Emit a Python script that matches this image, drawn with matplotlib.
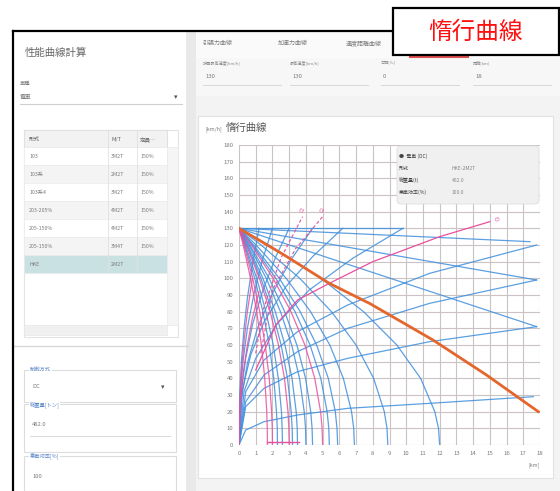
import matplotlib
matplotlib.use('Agg')
import matplotlib.pyplot as plt
from matplotlib.patches import Rectangle, FancyBboxPatch

plt.rcParams['font.family'] = ['Noto Sans CJK JP', 'DejaVu Sans']

#--- chart data ---#
x_ticks = list(range(0, 19))
y_ticks = list(range(0, 190, 10))

# braking curves: x at each speed of brake_speed
brake_speed = [130, 120, 100, 80, 60, 40, 20, 10, 0]
brake_blue = [
    [0, 0.34, 0.94, 1.43, 1.81, 2.08, 2.24, 2.29, 2.3],
    [0, 0.38, 1.06, 1.61, 2.05, 2.35, 2.54, 2.58, 2.6],
    [0, 0.47, 1.31, 1.99, 2.52, 2.90, 3.12, 3.18, 3.2],
    [0, 0.52, 1.43, 2.17, 2.75, 3.17, 3.42, 3.48, 3.5],
    [0, 0.59, 1.63, 2.48, 3.15, 3.62, 3.90, 3.98, 4.0],
    [0, 0.65, 1.80, 2.73, 3.46, 3.98, 4.29, 4.37, 4.4],
    [0, 0.80, 2.20, 3.35, 4.25, 4.89, 5.27, 5.37, 5.4],
    [0, 0.87, 2.41, 3.66, 4.64, 5.34, 5.76, 5.86, 5.9],
    [0, 1.02, 2.82, 4.28, 5.43, 6.24, 6.73, 6.86, 6.9],
    [0, 1.32, 3.63, 5.53, 7.00, 8.05, 8.69, 8.85, 8.9],
    [0, 1.78, 4.90, 7.45, 9.44, 10.86, 11.71, 11.93, 12.0],
]
brake_pink = [
    [0, 0.25, 0.69, 1.06, 1.34, 1.54, 1.66, 1.69, 1.7],
    [0, 0.30, 0.82, 1.24, 1.57, 1.81, 1.95, 1.99, 2.0],
    [0, 0.44, 1.22, 1.86, 2.36, 2.72, 2.93, 2.98, 3.0],
    [0, 0.74, 2.04, 3.11, 3.94, 4.53, 4.88, 4.97, 5.0],
]
# acceleration curves from the origin
rise_blue = [
    ([0, 0.05, 0.15, 0.3, 0.5, 0.8, 1.2], [0, 31, 51, 70, 88, 108, 130]),
    ([0, 0.08, 0.25, 0.5, 0.9, 1.4, 2.0], [0, 31, 51, 70, 91, 111, 130]),
    ([0, 0.12, 0.4, 0.8, 1.4, 2.2, 3.0], [0, 31, 52, 72, 92, 113, 130]),
    ([0, 0.15, 0.5, 1.1, 2.0, 3.1, 4.4], [0, 28, 49, 70, 91, 111, 130]),
    ([0, 0.2, 0.7, 1.5, 2.8, 4.4, 6.2], [0, 33, 54, 74, 95, 113, 130]),
    ([0, 0.3, 1.0, 2.3, 4.2, 6.8, 9.8], [0, 32, 52, 73, 93, 112, 130]),
    ([0, 0.4, 1.5, 3.5, 6.5, 11.4, 17.8], [0, 32, 51, 68, 84, 103, 120]),
    ([0, 0.4, 1.5, 3.5, 6.5, 11.4, 17.8], [0, 26, 42, 56, 70, 85, 99]),
    ([0, 0.4, 1.5, 3.5, 6.5, 11.4, 17.8], [0, 23, 34, 44, 52, 62, 71]),
    ([0, 0.4, 1.5, 3.5, 6.5, 11.4, 17.6], [0, 9, 14, 18, 22, 25, 29]),
]
rise_pink = [
    ([0, 0.05, 0.15, 0.3, 0.5, 0.8], [0, 25, 45, 62, 80, 100]),
    ([0, 0.08, 0.25, 0.5, 0.8, 1.2], [0, 24, 43, 60, 76, 92]),
]
# coasting lines from top speed
coast_end_x = [9.8, 17.4, 17.8, 17.8]
coast_end_y = [130, 122, 99, 71]
# operating line
orange_x = [0, 2.7, 5.4, 7.8, 11.6, 14.8, 17.9]
orange_y = [130, 114, 97, 85, 63, 42, 20]
# pink reference lines
pink_dash = [
    ([1.0, 1.44, 2.5, 3.8], [55, 81, 112, 137]),
    ([1.3, 2.0, 3.4, 5.0], [55, 93, 118, 137]),
]
pink_dash_labels = ["C1", "C2"]
pink_long_x = [1.0, 2.2, 3.5, 5.4, 8.0, 12.0, 15.0]
pink_long_y = [45, 72, 87, 97, 110, 125, 134]
pink_bottom_x = [1.7, 3.6]
pink_bottom_y = [2, 2]

#--- UI texts ---#
tabs = ["引張力曲線", "加速力曲線", "速度距離曲線"]
param_labels = ["計画最高速度[km/h]", "最高速度[km/h]", "勾配[‰]", "距離[km]"]
param_values = ["130", "130", "0", "18"]
tbl_head = ["形式", "M/T", "定員…"]
tbl_c1 = ["103", "103系", "103系4", "203-205%", "205-150%", "205-150%", "HKE"]
tbl_c2 = ["3M2T", "2M2T", "3M2T", "4M2T", "4M2T", "3M4T", "2M2T"]
tbl_c3 = ["150%", "150%", "150%", "150%", "150%", "150%", ""]
info_keys = ["形式", "総重量(t)", "乗車効率(%)"]
info_vals = ["HKE-2M2T", "482.0", "100.0"]

blue = '#3f8fdc'
pink = '#e8509e'
gray_txt = '#7a7a7a'

fig = plt.figure(figsize=(5.6, 4.91), dpi=100)
bg = fig.add_axes([0, 0, 1, 1])
bg.set_xlim(0, 560)
bg.set_ylim(491, 0)
bg.axis('off')

def box(x0, y0, x1, y1, fc, ec='none', lw=0.8, z=1):
    bg.add_patch(Rectangle((x0, y0), x1 - x0, y1 - y0, fc=fc, ec=ec, lw=lw, zorder=z))

def txt(x, y, s, fs=4.5, c=gray_txt, ha='left', z=3, **kw):
    bg.text(x, y, s, fontsize=fs, color=c, ha=ha, va='center', zorder=z, **kw)

#--- panels ---#
box(13, 31, 560, 491, '#f3f3f3')
box(13, 31, 186, 491, 'white')
box(186, 31, 196, 491, '#e9e9e9')
box(196, 31, 560, 58, '#fafafa')
box(196, 58, 560, 96, '#f7f7f7')
box(198, 116, 553, 478, 'white', ec='#e2e2e2')

#--- left panel ---#
txt(25, 53, "性能曲線計算", fs=7.5, c='#666666')
txt(20, 83, "車種", fs=3.8)
txt(20, 97, "電車", fs=4.2)
txt(176, 97, "▾", fs=5, c='#555555', ha='center')
bg.plot([20, 182], [104, 104], color='#cfcfcf', lw=0.8, zorder=2)

box(24, 130, 178, 337, 'white', ec='#e4e4e4')
box(24, 130, 167, 147, '#f2f2f2', ec='#e0e0e0')
row_h = 18
for i in range(len(tbl_c1)):
    y0 = 147 + i * row_h
    fc = '#c9e1e2' if i == len(tbl_c1) - 1 else ('#f4f4f4' if i % 2 else 'white')
    box(24, y0, 167, y0 + row_h, fc, ec='#ececec', lw=0.5)
    txt(29, y0 + row_h / 2, tbl_c1[i], fs=3.8)
    txt(111, y0 + row_h / 2, tbl_c2[i], fs=3.8)
    txt(140, y0 + row_h / 2, tbl_c3[i], fs=3.8)
for xs, h in zip([29, 111, 140], tbl_head):
    txt(xs, 139, h, fs=4.0, c='#666666')
bg.plot([108, 108], [130, 273], color='#e0e0e0', lw=0.6, zorder=2)
bg.plot([137, 137], [130, 273], color='#e0e0e0', lw=0.6, zorder=2)
box(167, 147, 178, 325, '#f5f5f5', ec='#e8e8e8', lw=0.5)
box(24, 325, 167, 335, '#f0f0f0', ec='#e6e6e6', lw=0.5)
bg.plot([13, 188], [346, 346], color='#d8d8d8', lw=1.0, zorder=2)

box(24, 370, 176, 402, 'white', ec='#dcdcdc')
box(24, 404, 176, 452, 'white', ec='#dcdcdc')
box(24, 456, 176, 491, 'white', ec='#dcdcdc')
txt(30, 369, "制御方式", fs=3.8, c='#5b86c9', bbox=dict(fc='white', ec='none', pad=0.5))
txt(32, 387, "DC", fs=4.2)
txt(163, 387, "▾", fs=5, c='#555555', ha='center')
txt(30, 405, "総重量[トン]", fs=3.8, c='#5b86c9', bbox=dict(fc='white', ec='none', pad=0.5))
txt(32, 424, "482.0", fs=4.2)
bg.plot([30, 170], [436, 436], color='#d5d5d5', lw=0.6, zorder=2)
txt(30, 457, "乗車効率[%]", fs=3.8, c='#5b86c9', bbox=dict(fc='white', ec='none', pad=0.5))
txt(32, 477, "100", fs=4.2)

#--- right panel header ---#
for xs, t in zip([203, 278, 346], tabs):
    txt(xs, 43, t, fs=4.3)
bg.plot([410, 468], [57, 57], color='#e05050', lw=1.5, zorder=2)
for i in range(len(param_labels)):
    x0 = [203, 290, 381, 473][i]
    txt(x0, 63, param_labels[i], fs=3.0, c='#8a8a8a')
    txt(x0 + 2, 76, param_values[i], fs=4.3)
    bg.plot([x0, x0 + 78], [85, 85], color='#d2d2d2', lw=0.6, zorder=2)

txt(205, 129, "[km/h]", fs=3.8)
txt(226, 128, "惰行曲線", fs=7.5, c='#555555')
txt(534, 465, "[km]", fs=3.8, ha='center')

#--- frame and callout ---#
bg.plot([13, 393], [31, 31], color='black', lw=1.6, zorder=6)
bg.plot([13, 13], [31, 491], color='black', lw=1.6, zorder=6)
box(393, 8, 559, 55, 'white', ec='black', lw=1.6, z=7)
bg.text(476, 32, "惰行曲線", fontsize=17, color='#ff1010', ha='center', va='center', zorder=8)

#--- chart ---#
ax = fig.add_axes([239 / 560, (491 - 445) / 491, 301 / 560, 300 / 491], zorder=2)
ax.set_xlim(0, 18)
ax.set_ylim(0, 180)
ax.set_xticks(x_ticks)
ax.set_yticks(y_ticks)
ax.grid(True, color='#cbc3c3', lw=0.8)
ax.set_axisbelow(True)
for s in ax.spines.values():
    s.set_visible(False)
ax.tick_params(length=0, labelsize=4.3, labelcolor=gray_txt, pad=4)

for xs in brake_blue:
    ax.plot(xs, brake_speed, color=blue, lw=0.9, alpha=0.85)
for xs, ys in rise_blue:
    ax.plot(xs, ys, color=blue, lw=0.9, alpha=0.85)
for ex, ey in zip(coast_end_x, coast_end_y):
    ax.plot([0, ex], [130, ey], color=blue, lw=0.9, alpha=0.85)
for xs in brake_pink:
    ax.plot(xs, brake_speed, color=pink, lw=0.9, alpha=0.85)
for xs, ys in rise_pink:
    ax.plot(xs, ys, color=pink, lw=0.9, alpha=0.85)
for (xs, ys), lab in zip(pink_dash, pink_dash_labels):
    ax.plot(xs, ys, color=pink, lw=0.8, ls=(0, (3, 2)))
    ax.text(xs[-1], ys[-1] + 2, lab, fontsize=3.5, color=pink, rotation=60, ha='center', va='bottom')
ax.plot(pink_long_x, pink_long_y, color=pink, lw=0.9)
ax.text(pink_long_x[-1] + 0.3, pink_long_y[-1] + 1, "C3", fontsize=3.5, color=pink, rotation=20, va='center')
ax.plot(pink_bottom_x, pink_bottom_y, color=pink, lw=1.0)
ax.plot(orange_x, orange_y, color='#e4662c', lw=2.0, zorder=5)

#--- info card ---#
bg2 = fig.add_axes([0, 0, 1, 1], zorder=3)
bg2.set_xlim(0, 560)
bg2.set_ylim(491, 0)
bg2.axis('off')
bg2.add_patch(FancyBboxPatch((397, 146), 142, 58, boxstyle='round,pad=0,rounding_size=4',
                             fc='#f0f0f0', ec='#dedede', lw=0.6))
bg2.text(399, 156, "●  電車 (DC)", fontsize=3.6, color='#444444', va='center')
for i in range(len(info_keys)):
    bg2.text(399, 168 + 12 * i, info_keys[i], fontsize=3.6, color='#444444', va='center')
    bg2.text(452, 168 + 12 * i, info_vals[i], fontsize=3.6, color='#888888', va='center')

plt.savefig('out.png', dpi=100)
